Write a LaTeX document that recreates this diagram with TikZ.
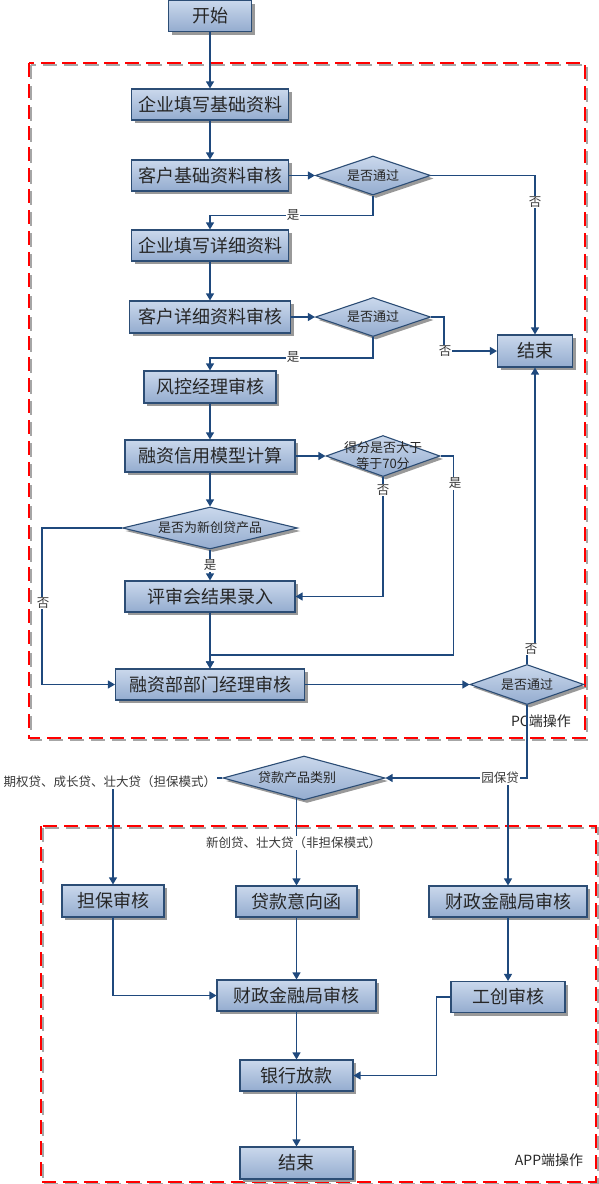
\documentclass[tikz,border=0pt]{standalone}
\usepackage{fontspec}
\setmainfont{Noto Sans CJK SC}
\usetikzlibrary{shapes.geometric,arrows.meta,shadows}
\definecolor{lc}{RGB}{31,73,125}
\definecolor{bt}{RGB}{202,216,236}
\definecolor{bb}{RGB}{148,172,207}
\definecolor{bd}{RGB}{44,77,117}
\begin{document}
\begin{tikzpicture}[x=1pt,y=-1pt,
  box/.style={rectangle, draw=bd, line width=1.1pt, top color=bt, bottom color=bb,
    minimum height=31pt, inner sep=0pt, font=\fontsize{18}{20}\selectfont, text=black!85,
    drop shadow={shadow xshift=3pt, shadow yshift=-3pt, fill=black!40, opacity=1}},
  dia/.style={diamond, draw=bd, line width=1.1pt, top color=bt, bottom color=bb, inner sep=0pt,
    drop shadow={shadow xshift=3pt, shadow yshift=-3pt, fill=black!40, opacity=1}},
  dtxt/.style={font=\fontsize{13}{16}\selectfont, text=black!85, align=center, inner sep=0pt},
  arr/.style={draw=lc, line width=1.2pt, -{Triangle[length=7pt,width=8pt]}},
  lab/.style={fill=white, inner sep=1pt, font=\fontsize{12.5}{14}\selectfont, text=black!78},
  zone/.style={line width=1.2pt, dash pattern=on 14pt off 7pt}
]
\useasboundingbox (0,0) rectangle (598,1184);

% zones
\draw[zone, black!35] (31,65) rectangle (587,740);
\draw[zone, red] (29,63) rectangle (585,738);
\draw[zone, black!35] (43,828) rectangle (598,1184);
\draw[zone, red] (41,826) rectangle (596,1182);

% nodes
\node[box, minimum width=83pt] (start) at (210,16) {开始};
\node[box, minimum width=157pt] (n1) at (210,104.5) {企业填写基础资料};
\node[box, minimum width=157pt] (n2) at (210,175.5) {客户基础资料审核};
\node[dia, minimum width=115pt, minimum height=39pt, label={[dtxt]center:是否通过}] (d1) at (373,175.5) {};
\node[box, minimum width=157pt] (n3) at (210,245.5) {企业填写详细资料};
\node[box, minimum width=161pt, minimum height=32pt] (n4) at (210,317) {客户详细资料审核};
\node[dia, minimum width=115pt, minimum height=39pt, label={[dtxt]center:是否通过}] (d2) at (373,317) {};
\node[box, minimum width=75pt, minimum height=32pt] (end1) at (535,351) {结束};
\node[box, minimum width=132pt, minimum height=32pt] (n5) at (210,387) {风控经理审核};
\node[box, minimum width=170pt, minimum height=32pt] (n6) at (210,456) {融资信用模型计算};
\node[dia, minimum width=114pt, minimum height=41pt, label={[dtxt]center:{得分是否大于\\等于70分}}] (d3) at (383,456) {};
\node[dia, minimum width=175pt, minimum height=42pt, label={[dtxt]center:是否为新创贷产品}] (d4) at (210,528) {};
\node[box, minimum width=170pt] (n7) at (210,596.5) {评审会结果录入};
\node[box, minimum width=189pt] (n8) at (210,684.5) {融资部部门经理审核};
\node[dia, minimum width=114pt, minimum height=40pt, label={[dtxt]center:是否通过}] (d5) at (527,684.5) {};
\node[font=\fontsize{14}{16}\selectfont, text=black!85] (pc) at (541,721) {PC端操作};
\node[dia, minimum width=162pt, minimum height=44pt, label={[dtxt,xshift=-7pt]center:贷款产品类别}] (cat) at (304,778) {};
\node[box, minimum width=102pt, minimum height=32pt] (g1) at (113,901) {担保审核};
\node[box, minimum width=121pt] (loan) at (296.5,901.5) {贷款意向函};
\node[box, minimum width=158pt] (fin1) at (508,901.5) {财政金融局审核};
\node[box, minimum width=159pt] (fin2) at (296.5,995.5) {财政金融局审核};
\node[box, minimum width=114pt] (gc) at (508,997) {工创审核};
\node[box, minimum width=113pt] (bank) at (296.5,1075.5) {银行放款};
\node[box, minimum width=113pt, minimum height=32pt] (end2) at (296.5,1163) {结束};
\node[font=\fontsize{14}{16}\selectfont, text=black!85] (app) at (549,1160) {APP端操作};
\coordinate (catb) at (296.5,798);

% connectors
\draw[arr] (start) -- (n1);
\draw[arr] (n1) -- (n2);
\draw[arr] (n2) -- (d1);
\draw[arr] (d1.east) -| (end1.north);
\node[lab] (l1) at (535,202) {否};
\draw[arr] (d1.south) -- ++(0,20) -| (n3.north);
\node[lab] (l2) at (293,215) {是};
\draw[arr] (n3) -- (n4);
\draw[arr] (n4) -- (d2);
\draw[arr] (d2.east) -- ++(13,0) |- (end1.west);
\node[lab] (l3) at (445,351) {否};
\draw[arr] (d2.south) -- ++(0,21) -| (n5.north);
\node[lab] (l4) at (293,357) {是};
\draw[arr] (n5) -- (n6);
\draw[arr] (n6) -- (d3);
\draw[arr] (d3.south) |- (n7.east);
\node[lab] (l5) at (383,490) {否};
\draw[arr] (d3.east) -- ++(13,0) -- ++(0,199) -| (n8.north);
\node[lab] (l6) at (455,483) {是};
\draw[arr] (n6) -- (d4);
\draw[arr] (d4) -- (n7);
\node[lab] (l7) at (210,565) {是};
\draw[arr] (d4.west) -- ++(-80,0) |- (n8.west);
\node[lab] (l8) at (43,603) {否};
\draw[arr] (n7) -- (n8);
\draw[arr] (n8) -- (d5);
\draw[arr] (d5.north) -- ++(0,-16) -- ++(8,0) -- (end1.south);
\node[lab] (l9) at (531,649) {否};
\draw[arr] (d5.south) |- (cat.east);
\draw[arr] (fin1.north |- cat.east) -- (fin1.north);
\node[lab] (l10) at (500,778) {园保贷};
\draw[arr] (cat.west) -| (g1.north);
\node[lab] (l11) at (110,782) {期权贷、成长贷、壮大贷（担保模式）};
\draw[arr] (catb) -- (loan.north);
\node[lab] (l12) at (293.5,843) {新创贷、壮大贷（非担保模式）};
\draw[arr] (g1.south) |- (fin2.west);
\draw[arr] (loan) -- (fin2);
\draw[arr] (fin1) -- (gc);
\draw[arr] (gc.west) -- ++(-14,0) |- (bank.east);
\draw[arr] (fin2) -- (bank);
\draw[arr] (bank) -- (end2);
\end{tikzpicture}
\end{document}
